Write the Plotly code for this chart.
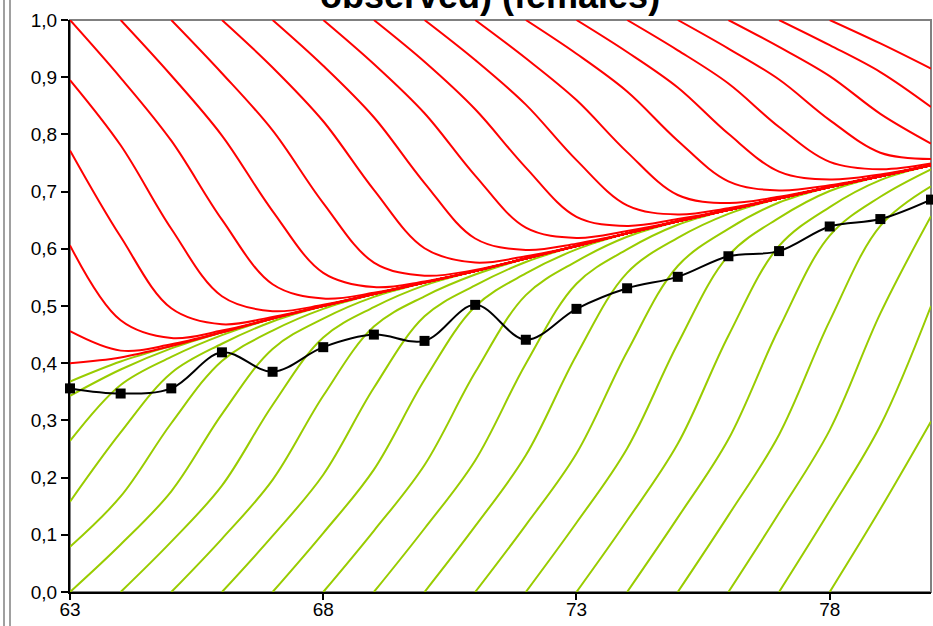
import plotly.graph_objects as go

# Calendar years on the horizontal axis
years = list(range(63, 81))

# Common path that every cohort settles onto
eq_path = [0.385, 0.407, 0.430, 0.454, 0.478, 0.500, 0.521, 0.541, 0.561,
           0.583, 0.605, 0.627, 0.648, 0.668, 0.688, 0.708, 0.727, 0.746]

# Cohorts entering at 1.0 (keyed by entry year); values from the first
# visible year until they rejoin the common path
red_runs = {
    58: [0.400, 0.410],
    59: [0.456, 0.422, 0.433],
    60: [0.606, 0.475, 0.444, 0.457],
    61: [0.772, 0.621, 0.496, 0.468, 0.481],
    62: [0.895, 0.781, 0.635, 0.517, 0.491, 0.502],
    63: [1.0, 0.899, 0.789, 0.651, 0.538, 0.513, 0.523],
    64: [1.0, 0.903, 0.798, 0.666, 0.558, 0.533, 0.543],
    65: [1.0, 0.907, 0.807, 0.680, 0.576, 0.553, 0.563],
    66: [1.0, 0.917, 0.823, 0.703, 0.601, 0.576, 0.587],
    67: [1.0, 0.920, 0.830, 0.715, 0.618, 0.598, 0.609],
    68: [1.0, 0.923, 0.837, 0.728, 0.637, 0.619, 0.631],
    69: [1.0, 0.927, 0.844, 0.742, 0.656, 0.640, 0.652],
    70: [1.0, 0.930, 0.852, 0.755, 0.676, 0.660, 0.671],
    71: [1.0, 0.933, 0.860, 0.769, 0.694, 0.680, 0.691],
    72: [1.0, 0.941, 0.875, 0.789, 0.718, 0.702, 0.711],
    73: [1.0, 0.944, 0.882, 0.801, 0.735, 0.721, 0.730],
    74: [1.0, 0.947, 0.889, 0.813, 0.752, 0.739, 0.749],
    75: [1.0, 0.950, 0.896, 0.825, 0.768, 0.757],
    76: [1.0, 0.953, 0.902, 0.836, 0.784],
    77: [1.0, 0.956, 0.909, 0.848],
    78: [1.0, 0.959, 0.915],
}

# Cohorts entering at 0.0
green_runs = {
    58: [0.368, 0.403],
    59: [0.343, 0.389, 0.426],
    60: [0.264, 0.362, 0.411, 0.449],
    61: [0.158, 0.279, 0.383, 0.434, 0.473],
    62: [0.079, 0.167, 0.295, 0.404, 0.457, 0.495],
    63: [0.0, 0.083, 0.176, 0.311, 0.425, 0.478, 0.516],
    64: [0.0, 0.088, 0.186, 0.327, 0.445, 0.498, 0.536],
    65: [0.0, 0.093, 0.196, 0.343, 0.464, 0.517, 0.555],
    66: [0.0, 0.098, 0.205, 0.357, 0.482, 0.536, 0.577],
    67: [0.0, 0.103, 0.214, 0.371, 0.499, 0.557, 0.599],
    68: [0.0, 0.107, 0.222, 0.384, 0.519, 0.578, 0.621],
    69: [0.0, 0.111, 0.230, 0.399, 0.539, 0.599, 0.642],
    70: [0.0, 0.115, 0.239, 0.414, 0.558, 0.619, 0.661],
    71: [0.0, 0.117, 0.242, 0.420, 0.570, 0.635, 0.681],
    72: [0.0, 0.121, 0.251, 0.434, 0.588, 0.654, 0.701],
    73: [0.0, 0.125, 0.259, 0.448, 0.605, 0.673, 0.720],
    74: [0.0, 0.130, 0.267, 0.461, 0.623, 0.691, 0.739],
    75: [0.0, 0.134, 0.275, 0.474, 0.640, 0.709],
    76: [0.0, 0.138, 0.283, 0.487, 0.657],
    77: [0.0, 0.142, 0.291, 0.500],
    78: [0.0, 0.145, 0.298],
}

# Observed series
observed = [0.356, 0.347, 0.356, 0.419, 0.385, 0.428, 0.450, 0.439, 0.502,
            0.441, 0.495, 0.531, 0.551, 0.587, 0.596, 0.639, 0.652, 0.686]

x_ticks = [63, 68, 73, 78]

RED = "#ff0000"
GREEN = "#99cc00"
FONT = "Liberation Sans, Arial, sans-serif"


def cohort_trace(start, run, color):
    idx = max(start, years[0]) - years[0]
    ys = list(run) + eq_path[idx + len(run):]
    xs = years[idx:idx + len(ys)]
    return go.Scatter(x=xs, y=ys, mode="lines",
                      line=dict(color=color, width=2, shape="spline", smoothing=1.0),
                      hoverinfo="skip")


fig = go.Figure()
for s, run in green_runs.items():
    fig.add_trace(cohort_trace(s, run, GREEN))
for s, run in red_runs.items():
    fig.add_trace(cohort_trace(s, run, RED))

fig.add_trace(go.Scatter(
    x=years, y=observed, mode="lines+markers",
    line=dict(color="black", width=2, shape="spline", smoothing=1.0),
    marker=dict(symbol="square", size=10, color="black"),
    cliponaxis=False,
))

fig.update_layout(
    width=933, height=626,
    margin=dict(l=70, r=2, t=20, b=34, autoexpand=False),
    paper_bgcolor="white", plot_bgcolor="white",
    showlegend=False,
    separators=", ",
    font=dict(family=FONT, size=19, color="black"),
)

fig.update_xaxes(
    range=[63, 80], tickvals=x_ticks, ticktext=[str(v) for v in x_ticks],
    ticks="outside", ticklen=6, tickwidth=1.5, tickcolor="black",
    ticklabelstandoff=-7,
    showline=True, linecolor="black", linewidth=2,
    showgrid=False, zeroline=False, automargin=False,
    tickfont=dict(family=FONT, size=19, color="black"),
)
fig.update_yaxes(
    range=[0, 1], dtick=0.1, tick0=0, tickformat=".1f",
    ticks="outside", ticklen=7, tickwidth=1.5, tickcolor="black",
    showline=True, linecolor="black", linewidth=2,
    showgrid=False, zeroline=False, automargin=False,
    tickfont=dict(family=FONT, size=19, color="black"),
)

# Plot-area frame and outer chart frame
fig.add_shape(type="rect", xref="paper", yref="paper", x0=0, x1=1, y0=0, y1=1,
              line=dict(color="#808080", width=2), layer="below")
for px in (4, 10):
    fig.add_shape(type="line", xref="paper", yref="paper",
                  x0=(px - 70) / 861, x1=(px - 70) / 861,
                  y0=-34 / 572, y1=1 + 20 / 572,
                  line=dict(color="#808080", width=1.5))

fig.add_annotation(
    text="<b>observed) (females)</b>", xref="paper", yref="paper",
    x=0.4878, y=1 + 2 / 572, xanchor="center", yanchor="bottom", showarrow=False,
    font=dict(family=FONT, size=36, color="black"),
)

fig.write_html("out.html")
